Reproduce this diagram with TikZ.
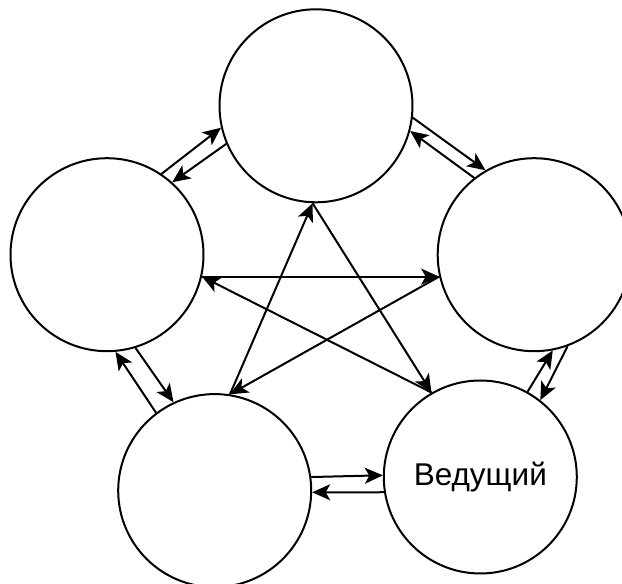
\documentclass[tikz,border=0pt]{standalone}
\usepackage{fontspec}
\setmainfont{Liberation Sans}
\usetikzlibrary{arrows.meta}
\begin{document}
\begin{tikzpicture}[x=1pt,y=1pt,
  peer/.style={circle,draw,line width=2pt,minimum size=193pt,inner sep=0pt,font=\fontsize{31.5}{36}\selectfont},
  link/.style={line width=2pt,-{Stealth[length=18pt,width=16pt,inset=4.5pt]}}]
\useasboundingbox (0,0) rectangle (622,584);
\clip (0,0) rectangle (622,584);
\node[peer] (top) at (316,478.2) {};
\node[peer] (left) at (107,329.3) {};
\node[peer] (right) at (534.2,329.3) {};
\node[peer] (bl) at (214.7,93.4) {};
\node[peer] (br) at (480.3,107) {Ведущий};
% adjacent pairs
\draw[link] (left.56.2) -- (top.193.9);
\draw[link] (top.203.9) -- (left.48.6);
\draw[link] (top.-7.9) -- (right.120.6);
\draw[link] (right.128.6) -- (top.-15.6);
\draw[link] (bl.127.2) -- (left.-85.9);
\draw[link] (left.-73.4) -- (bl.115);
\draw[link] (bl.8.7) -- (br.179.4);
\draw[link] (br.189) -- (bl.-1.1);
\draw[link] (br.61.9) -- (right.-79.7);
\draw[link] (right.-70) -- (br.52.2);
% pentagram
\draw[link] (top.268.5) -- (br.120.9);
\draw[link] (bl.81.8) -- (top.268.5);
\draw[link] (left.-13.2) -- (right.193.4);
\draw[link] (right.193.4) -- (bl.81.8);
\draw[link] (br.120.9) -- (left.-13.2);
\end{tikzpicture}
\end{document}
